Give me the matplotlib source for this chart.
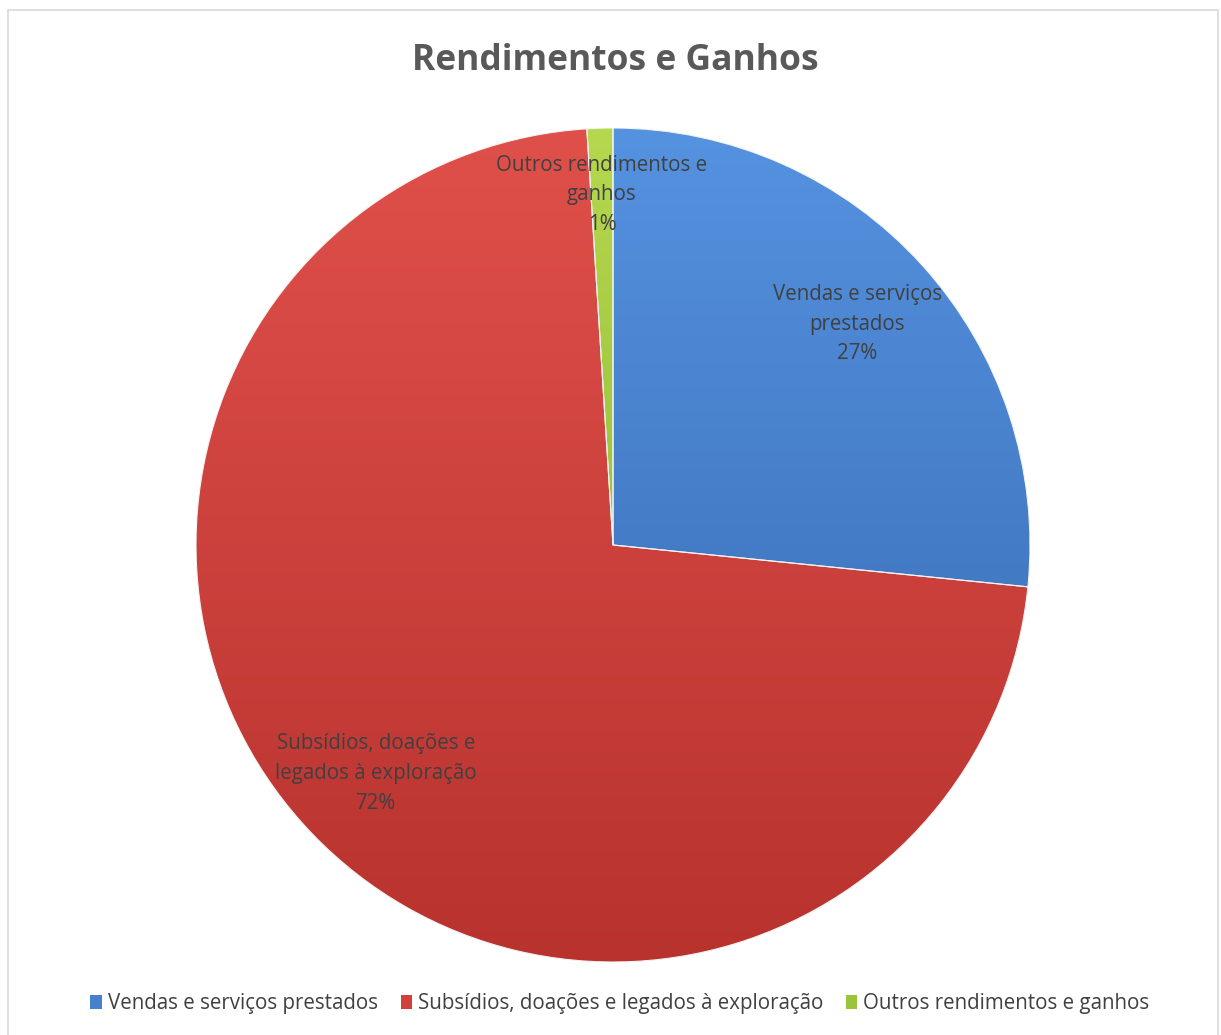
import matplotlib
matplotlib.use("Agg")
import matplotlib.pyplot as plt
import numpy as np
from matplotlib.colors import to_rgb
from matplotlib.patches import Rectangle, Wedge

# ---- data ----
categories = ["Vendas e serviços prestados",
              "Subsídios, doações e legados à exploração",
              "Outros rendimentos e ganhos"]
slice_labels = ["Vendas e serviços\nprestados",
                "Subsídios, doações e\nlegados à exploração",
                "Outros rendimentos e\nganhos"]
values = [26.6, 72.4, 1.0]
pct_labels = ["27%", "72%", "1%"]
title = "Rendimentos e Ganhos"

colors = ["#4680CF", "#D2403C", "#9CC43A"]
light = ["#5592E0", "#E0504B", "#B5D84E"]
dark = ["#3566AD", "#B8322E", "#86AA2C"]

plt.rcParams['font.family'] = ['Open Sans', 'DejaVu Sans']

W, H = 1221, 1035
fig = plt.figure(figsize=(W / 100, H / 100), dpi=100)
fig.patch.set_facecolor("white")

# chart border
fig.add_artist(Rectangle((8 / W, -0.01), (1218 - 8) / W, (H - 10) / H + 0.01,
                         transform=fig.transFigure, fill=False,
                         edgecolor="#d9d9d9", linewidth=1.2))

cx, cy, R = 613, 1035 - 545, 417
ax = fig.add_axes([(cx - R) / W, (cy - R) / H, 2 * R / W, 2 * R / H])
wedges, _ = ax.pie(values, colors=colors, startangle=90, counterclock=False,
                   radius=1.0, wedgeprops=dict(edgecolor="#ffffff", linewidth=0.6))
ax.set_aspect("equal")
ax.axis("off")

# vertical gradient shading clipped to each wedge
yy = np.linspace(1, 0, 256)[:, None]
for w, lc, dc in zip(wedges, light, dark):
    lc = np.array(to_rgb(lc)); dc = np.array(to_rgb(dc))
    img = (yy[..., None] * lc + (1 - yy[..., None]) * dc) * np.ones((1, 2, 3))
    im = ax.imshow(img, extent=[-1, 1, -1, 1], origin="upper",
                   aspect="auto", zorder=w.get_zorder() + 0.1)
    im.set_clip_path(w)
ax.set_xlim(-1, 1)
ax.set_ylim(-1, 1)

# edge lines above gradient
for w in wedges:
    ax.add_patch(Wedge(w.center, w.r, w.theta1, w.theta2,
                       facecolor="none", edgecolor="#f4f4f4",
                       linewidth=0.8, zorder=5))

# data labels
dists = [0.79, 0.79, 0.84]
for w, lab, pct, d in zip(wedges, slice_labels, pct_labels, dists):
    ang = np.deg2rad((w.theta1 + w.theta2) / 2)
    ax.text(d * np.cos(ang), d * np.sin(ang), lab + "\n" + pct,
            ha="center", va="center", fontsize=14.8, color="#404040",
            linespacing=1.55, zorder=10)

fig.text(615 / W, 1 - 61 / H, title, ha="center", va="center",
         fontsize=25.5, fontweight="bold", color="#595959")

handles = [Rectangle((0, 0), 1, 1, facecolor=c) for c in colors]
fig.legend(handles, categories, loc="center", bbox_to_anchor=(620 / W, 1 - 1004 / H),
           ncol=3, frameon=False, fontsize=14.8, handlelength=0.55, handleheight=0.65,
           handletextpad=0.3, columnspacing=1.1, labelcolor="#404040")

fig.savefig("out.png", dpi=100, facecolor="white")
